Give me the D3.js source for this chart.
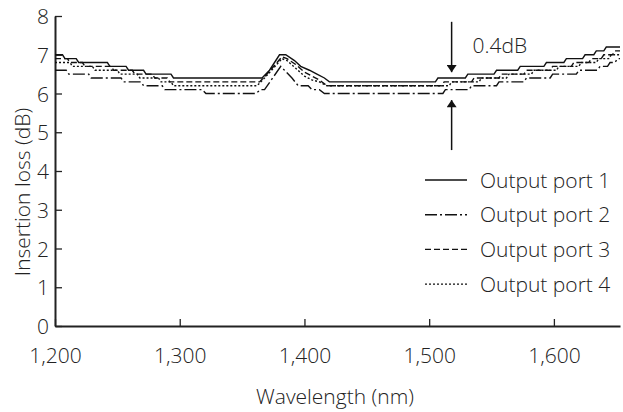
<!DOCTYPE html>
<html>
<head>
<meta charset="utf-8">
<script src="https://cdn.jsdelivr.net/npm/d3@7"></script>
<style>
    body { margin: 0; background: #fff; }
    text { font-family: "Open Sans", "Liberation Sans", sans-serif; font-weight: 300; fill: #222; }
</style>
</head>
<body>
<svg width="623" height="412"></svg>
<script>
// DATA (wavelength nm, insertion loss dB)
const port1 = [[1200,7.0],[1206,7.0],[1208,6.9],[1217,6.9],[1219,6.8],[1242,6.8],[1244,6.7],[1257,6.7],[1259,6.6],[1271,6.6],[1273,6.5],[1293,6.5],[1295,6.4],[1366,6.4],[1372,6.6],[1380,7.0],[1385,7.0],[1392,6.85],[1397,6.7],[1404,6.6],[1410,6.5],[1416,6.4],[1420,6.3],[1505,6.3],[1507,6.4],[1529,6.4],[1531,6.5],[1552,6.5],[1554,6.6],[1571,6.6],[1573,6.7],[1592,6.7],[1594,6.8],[1608,6.8],[1610,6.9],[1623,6.9],[1625,7.0],[1632,7.0],[1634,7.1],[1640,7.1],[1642,7.2],[1653,7.2]];
const port2 = [[1200,6.6],[1209,6.6],[1211,6.5],[1227,6.5],[1229,6.4],[1253,6.4],[1255,6.3],[1269,6.3],[1271,6.2],[1286,6.2],[1288,6.1],[1318,6.1],[1321,6.0],[1361,6.0],[1365,6.1],[1368,6.1],[1381,6.7],[1390,6.4],[1395,6.2],[1403,6.2],[1406,6.1],[1412,6.1],[1416,6.0],[1511,6.0],[1513,6.1],[1532,6.1],[1534,6.2],[1554,6.2],[1556,6.3],[1576,6.3],[1578,6.4],[1597,6.4],[1599,6.5],[1618,6.5],[1620,6.6],[1635,6.6],[1637,6.7],[1643,6.7],[1645,6.8],[1649,6.8],[1651,6.9],[1653,6.9]];
const port3 = [[1200,6.9],[1210,6.9],[1212,6.8],[1222,6.8],[1224,6.7],[1245,6.7],[1247,6.6],[1262,6.6],[1264,6.5],[1278,6.5],[1280,6.4],[1290,6.4],[1292,6.3],[1364,6.3],[1370,6.5],[1382,6.95],[1386,6.9],[1393,6.75],[1400,6.55],[1406,6.45],[1412,6.35],[1418,6.2],[1510,6.2],[1512,6.3],[1534,6.3],[1536,6.4],[1556,6.4],[1558,6.5],[1576,6.5],[1578,6.6],[1597,6.6],[1599,6.7],[1614,6.7],[1616,6.8],[1628,6.8],[1630,6.9],[1638,6.9],[1640,7.0],[1647,7.0],[1649,7.1],[1653,7.1]];
const port4 = [[1200,6.8],[1212,6.8],[1214,6.7],[1230,6.7],[1232,6.6],[1250,6.6],[1252,6.5],[1266,6.5],[1268,6.4],[1283,6.4],[1285,6.3],[1293,6.3],[1295,6.2],[1362,6.2],[1368,6.4],[1382,6.9],[1386,6.85],[1393,6.65],[1400,6.45],[1406,6.35],[1412,6.3],[1418,6.2],[1516,6.2],[1518,6.3],[1540,6.3],[1542,6.4],[1562,6.4],[1564,6.5],[1582,6.5],[1584,6.6],[1602,6.6],[1604,6.7],[1620,6.7],[1622,6.8],[1634,6.8],[1636,6.9],[1644,6.9],[1646,7.0],[1653,7.0]];

const seriesNames = ['Output port 1', 'Output port 2', 'Output port 3', 'Output port 4'];
const xTicks = [1200, 1300, 1400, 1500, 1600];
const yTicks = [0, 1, 2, 3, 4, 5, 6, 7, 8];
// 0.4dB marker: wavelength, [arrow start, arrow tip] for top and bottom arrows
const markerWl = 1518;
const markerTop = [7.85, 6.55];
const markerBottom = [4.54, 5.83];
const markerLabel = '0.4dB';

const dashes = ['none', '12,3,2,3', '6,3', '2,2'];
const series = [port1, port2, port3, port4];

var svg = d3.select('svg');

const sizes = { left: 55, right: 620, top: 16, bottom: 326 };

var x = d3.scaleLinear().domain([1200, 1653]).range([sizes.left, sizes.right]);
var y = d3.scaleLinear().domain([0, 8]).range([sizes.bottom, sizes.top]);

// AXES

var gx = svg.append('g')
    .attr('transform', 'translate(0,' + sizes.bottom + ')')
    .call(d3.axisBottom(x).tickValues(xTicks).tickFormat(d3.format(',')).tickSizeInner(-7).tickSizeOuter(0));
gx.select('.domain').attr('stroke', '#222').attr('stroke-width', 2);
gx.selectAll('.tick line').attr('stroke', '#222').attr('stroke-width', 1.3);
gx.selectAll('.tick text').attr('y', 37).attr('dy', 0).style('font-size', '21px');

var gy = svg.append('g')
    .attr('transform', 'translate(' + sizes.left + ',0)')
    .call(d3.axisLeft(y).tickValues(yTicks).tickSizeInner(-7).tickSizeOuter(0));
gy.select('.domain').attr('stroke', '#222').attr('stroke-width', 2);
gy.selectAll('.tick line').attr('stroke', '#222').attr('stroke-width', 1.3);
gy.selectAll('.tick text').attr('x', -6).attr('dy', '0.36em').style('font-size', '21px');

svg.append('text')
    .attr('x', 335).attr('y', 404)
    .attr('text-anchor', 'middle')
    .style('font-size', '21px')
    .text('Wavelength (nm)');

svg.append('text')
    .attr('transform', 'translate(30,192) rotate(-90)')
    .attr('text-anchor', 'middle')
    .style('font-size', '21px')
    .text('Insertion loss (dB)');

// CURVES

var line = d3.line()
    .x(d => x(d[0]))
    .y(d => y(d[1]));

svg.append('g').selectAll('path')
    .data(series)
    .join('path')
    .attr('d', line)
    .attr('fill', 'none')
    .attr('stroke', '#111')
    .attr('stroke-width', 1.4)
    .attr('stroke-dasharray', (d, i) => dashes[i]);

// LEGEND

var legend = svg.append('g').selectAll('g')
    .data(seriesNames)
    .join('g')
    .attr('transform', (d, i) => 'translate(425,' + (180 + i * 34.7) + ')');

legend.append('line')
    .attr('x1', 0).attr('x2', 42)
    .attr('stroke', '#111')
    .attr('stroke-width', 1.4)
    .attr('stroke-dasharray', (d, i) => dashes[i]);

legend.append('text')
    .attr('x', 55).attr('dy', '0.36em')
    .style('font-size', '21px')
    .text(d => d);

// 0.4dB MARKER

svg.append('defs').append('marker')
    .attr('id', 'arrow')
    .attr('viewBox', '0 0 10 14')
    .attr('refX', 10).attr('refY', 7)
    .attr('markerWidth', 14).attr('markerHeight', 10)
    .attr('markerUnits', 'userSpaceOnUse')
    .attr('orient', 'auto')
    .append('path')
    .attr('d', 'M0,0 L10,7 L0,14 Z')
    .attr('fill', '#111');

svg.append('g').selectAll('line')
    .data([markerTop, markerBottom])
    .join('line')
    .attr('x1', x(markerWl)).attr('x2', x(markerWl))
    .attr('y1', d => y(d[0])).attr('y2', d => y(d[1]))
    .attr('stroke', '#111')
    .attr('stroke-width', 1.5)
    .attr('marker-end', 'url(#arrow)');

svg.append('text')
    .attr('x', x(markerWl) + 21).attr('y', 53)
    .style('font-size', '21px')
    .text(markerLabel);
</script>
</body>
</html>
